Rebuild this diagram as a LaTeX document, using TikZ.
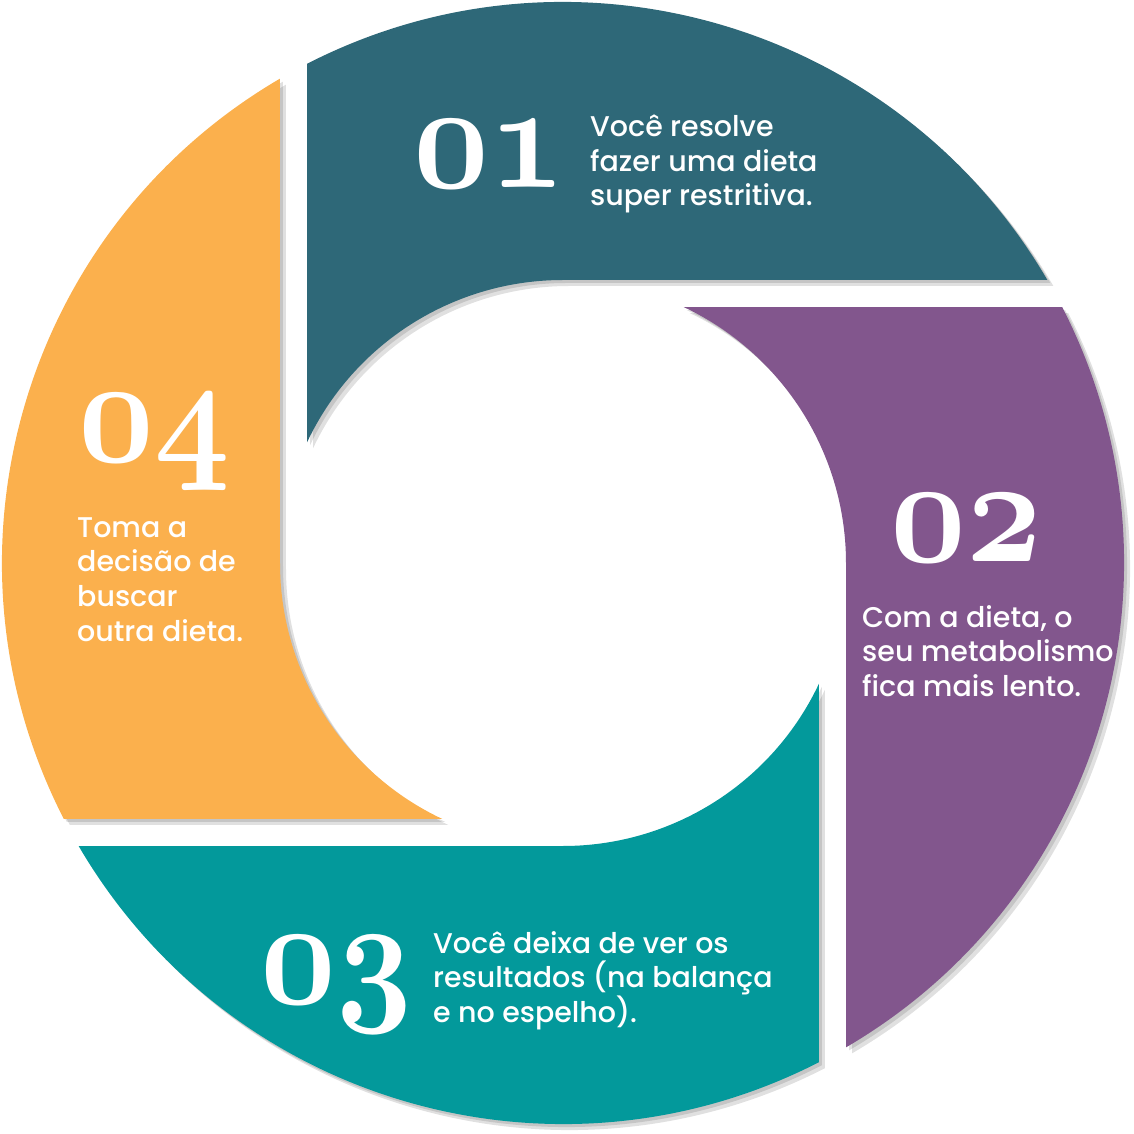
\RequirePackage{fix-cm}
\documentclass[tikz,border=0pt]{standalone}
\usepackage{fontspec}
\IfFontExistsTF{Poppins Medium}{\setmainfont{Poppins Medium}}{\setmainfont{Poppins}}
\usepackage{xcolor}
\usetikzlibrary{positioning}
\definecolor{stepone}{HTML}{2E6878}
\definecolor{steptwo}{HTML}{82568D}
\definecolor{stepthree}{HTML}{03999B}
\definecolor{stepfour}{HTML}{FBB04D}
\newcommand{\stepfont}{\usefont{OML}{cmm}{b}{it}\fontsize{150}{150}\selectfont}

\begin{document}
\begin{tikzpicture}[
    x=1pt, y=1pt,
    ringpiece/.style={
      insert path={(117.15:561pt) arc[start angle=117.15, end angle=30.30, radius=561pt]
        -- (0pt,283pt) arc[start angle=90, end angle=154.76, radius=283pt] -- cycle}
    },
    shade1/.style={fill=black, opacity=0.12},
    numlabel/.style={text=white, inner sep=0pt, font=\stepfont, xscale=0.88, anchor=base west},
    steptext/.style={text=white, inner sep=0pt, align=left, anchor=base west,
      font=\fontsize{28.5}{34.5}\selectfont}
  ]
    \useasboundingbox (-563,-571) rectangle (571,563);

    % ring pieces, with a soft shadow
    \foreach \k/\col in {0/stepone,1/steptwo,2/stepthree,3/stepfour}{
      \fill[shade1, shift={(6,-6)}, rotate=-90*\k] [ringpiece];
      \fill[shade1, shift={(3,-3)}, rotate=-90*\k] [ringpiece];
      \fill[\col, rotate=-90*\k] [ringpiece];
    }

    % base = last line of each text
    \node[numlabel] (num01) at (-150,375) {01};
    \node[steptext] (txt01) at (27,357) {Você resolve\\fazer uma dieta\\super restritiva.};

    \node[numlabel] (num02) at (327,1) {02};
    \node[steptext] (txt02) at (299,-133) {Com a dieta, o\\seu metabolismo\\fica mais lento.};

    \node[numlabel] (num03) at (-303,-440) {03};
    \node[steptext] (txt03) at (-130,-459) {Você deixa de ver os\\resultados (na balança\\e no espelho).};

    \node[numlabel] (num04) at (-485,101) {04};
    \node[steptext] (txt04) at (-486,-78) {Toma a\\decisão de\\buscar\\outra dieta.};
  \end{tikzpicture}
\end{document}
